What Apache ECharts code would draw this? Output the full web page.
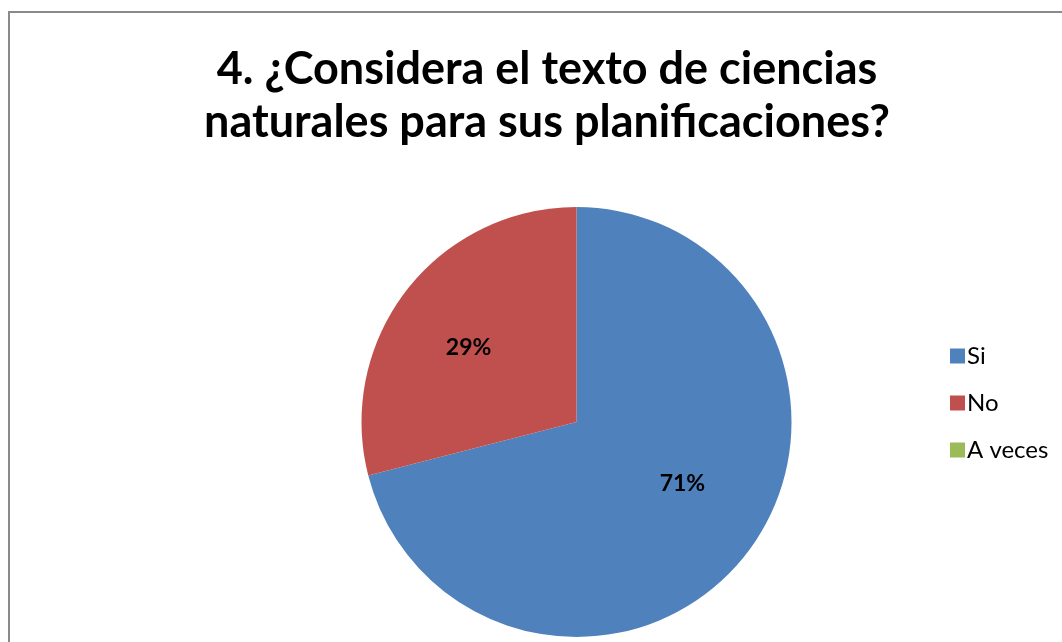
<!DOCTYPE html>
<html>
<head>
<meta charset="utf-8">
<script src="https://cdn.jsdelivr.net/npm/echarts@6/dist/echarts.min.js"></script>
<style>
html,body{margin:0;padding:0;background:#fff;}
#c{width:1062px;height:642px;}
</style>
</head>
<body>
<div id="c"></div>
<script>
const titleText = '4. ¿Considera el texto de ciencias\nnaturales para sus planificaciones?';
const categories = ['Si', 'No', 'A veces'];
const values = [71, 29, 0];
const colors = ['#4F81BD', '#C0504D', '#9BBB59'];

const chart = echarts.init(document.getElementById('c'), null, {renderer: 'canvas'});
const FONT = 'Lato';
const R = 215;
const CX = 576.5, CY = 422;
// small label nudges (Excel-like label placement)
const labelNudge = [{dx: 4, dy: -17}, {dx: -6, dy: 5}, {dx: 0, dy: 0}];

const pieData = categories.map((name, i) => ({
  name: name,
  value: values[i],
  itemStyle: {color: colors[i]}
}));

const labelData = categories.map((name, i) => ({
  name: name,
  value: values[i],
  label: {show: values[i] > 0}
}));

chart.setOption({
  animation: false,
  backgroundColor: '#fff',
  color: colors,
  graphic: [{
    type: 'rect',
    shape: {x: 9, y: 12, width: 1100, height: 700},
    style: {fill: 'none', stroke: '#8a8a8a', lineWidth: 2},
    silent: true,
    z: -10
  }],
  title: {
    text: titleText,
    left: 542,
    top: 38,
    textAlign: 'center',
    textStyle: {
      fontFamily: FONT,
      fontWeight: 'bold',
      fontSize: 45,
      lineHeight: 53,
      color: '#000'
    }
  },
  legend: {
    orient: 'vertical',
    left: 945,
    top: 339,
    itemWidth: 15,
    itemHeight: 15,
    itemGap: 23,
    icon: 'rect',
    data: categories,
    textStyle: {
      fontFamily: FONT,
      fontSize: 24,
      lineHeight: 24,
      color: '#000',
      padding: [0, 0, 0, -3]
    }
  },
  series: [{
    type: 'pie',
    center: [CX, CY],
    radius: [0, R],
    startAngle: 90,
    clockwise: true,
    silent: true,
    label: {show: false},
    labelLine: {show: false},
    itemStyle: {borderWidth: 0},
    data: pieData
  }, {
    type: 'pie',
    center: [CX, CY],
    radius: [37, R],
    startAngle: 90,
    clockwise: true,
    silent: true,
    itemStyle: {color: 'rgba(0,0,0,0)', borderWidth: 0},
    label: {
      show: true,
      position: 'inside',
      formatter: p => Math.round(p.percent) + '%',
      fontFamily: FONT,
      fontWeight: 'bold',
      fontSize: 23,
      color: '#000'
    },
    labelLayout: p => labelNudge[p.dataIndex],
    labelLine: {show: false},
    data: labelData,
    z: 3
  }]
});
</script>
</body>
</html>
